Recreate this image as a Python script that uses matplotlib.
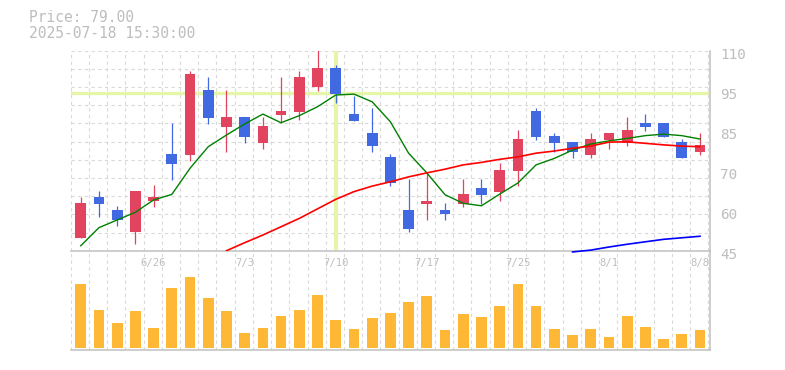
import numpy as np
import matplotlib.pyplot as plt
from matplotlib.transforms import ScaledTranslation

# OHLC (35 trading days, 6/20 .. 8/8)
opens = [49.2, 62.45, 58.2, 51.2, 61.25, 76.4, 76.2, 97.2, 85.3, 88.45, 80.1, 89.2, 90.2, 98.3, 104.4,
         89.43, 83.25, 75.45, 58.2, 60.27, 58.2, 60.27, 65.4, 64.2, 71.0, 90.4, 82.3, 80.3, 76.2, 81.07,
         80.1, 86.5, 86.5, 80.3, 77.2]
closes = [60.5, 60.3, 55.1, 64.4, 62.45, 73.3, 102.4, 88.2, 88.45, 82.05, 85.5, 90.4, 101.45, 104.4, 96.0,
          87.25, 79.1, 67.1, 52.15, 61.25, 57.0, 63.4, 63.2, 71.2, 81.3, 82.05, 80.1, 77.2, 81.3, 83.25,
          84.2, 85.3, 82.05, 75.2, 79.35]
highs = [62.5, 64.4, 59.5, 64.4, 66.35, 86.5, 103.4, 101.45, 97.2, 88.45, 88.45, 101.45, 103.4, 110.2, 105.35,
         95.3, 91.4, 76.4, 68.4, 70.35, 60.5, 68.4, 68.4, 73.5, 84.2, 91.4, 83.25, 80.3, 83.25, 83.25,
         88.45, 89.43, 86.5, 81.3, 83.25]
lows = [49.2, 56.05, 53.1, 47.3, 59.3, 68.1, 74.25, 86.3, 77.2, 80.1, 78.15, 86.4, 87.4, 97.0, 93.1,
        87.25, 77.2, 66.1, 51.2, 55.1, 55.1, 59.3, 60.27, 61.25, 66.1, 81.07, 77.2, 75.2, 75.2, 78.15,
        79.1, 84.0, 82.05, 75.2, 76.2]
volume = [192, 114, 75, 111, 60, 180, 213, 150, 111, 45, 60, 96, 114, 159, 84, 57, 90, 105, 138,
          156, 54, 102, 93, 126, 192, 126, 57, 39, 57, 33, 96, 63, 27, 42, 54]

# moving averages
ma_short = [46.6, 52.5, 55.0, 57.5, 61.5, 63.3, 71.8, 78.8, 82.6, 86.2, 89.4, 86.6, 88.9, 91.8, 95.6,
            95.9, 93.4, 86.9, 76.7, 70.3, 63.2, 60.4, 59.6, 63.4, 67.0, 72.9, 75.0, 77.7, 79.7, 80.7,
            81.5, 82.4, 82.9, 82.4, 81.3]
ma_mid_start = 8
ma_mid = [45.0, 47.6, 50.1, 52.8, 55.5, 58.6, 61.7, 64.2, 66.0, 67.4, 69.0, 70.3, 71.5, 72.9, 73.7,
          74.7, 75.5, 76.7, 77.4, 78.3, 79.0, 80.3, 80.4, 79.9, 79.4, 79.0, 78.8]
ma_long_start = 27
ma_long = [44.6, 45.2, 46.2, 47.1, 47.9, 48.7, 49.2, 49.7]

date_ticks = [4, 9, 14, 19, 24, 29, 34]
date_labels = ["6/26", "7/3", "7/10", "7/17", "7/25", "8/1", "8/8"]
price_labels = ["45", "60", "70", "85", "95", "110"]
cursor_idx = 14
cursor_price = 96.15

UP = "#e2435f"
DOWN = "#4169e1"
VOL = "#ffb836"
CURSOR = "#e6f6a8"
GRID = "#d9d9d9"
AXIS = "#c0c0c0"
TXT = "#bdbdbd"
MONO = "DejaVu Sans Mono"

fig = plt.figure(figsize=(7.85, 3.7), dpi=100)
axv = fig.add_axes([0.0901, 0.0541, 0.8144, 0.2683])
ax = fig.add_axes([0.0901, 0.3224, 0.8144, 0.5405], sharex=axv)
axv.patch.set_visible(False)

x = np.arange(len(opens))
o = np.array(opens)
c = np.array(closes)
up = c >= o
colors = np.where(up, UP, DOWN)

ymin, ymax = 45, 110
ax.set_xlim(-0.55, 34.55)
ax.set_ylim(ymin, ymax)

# grid
for gx in np.arange(-0.55, 34.5, 1.0):
    ax.axvline(gx, color=GRID, lw=0.8, ls=(0, (3, 3)), zorder=0)
    axv.axvline(gx, color=GRID, lw=0.8, ls=(0, (3, 3)), zorder=0)
for gy in np.linspace(ymin, ymax, 12)[1:]:
    ax.axhline(gy, color=GRID, lw=0.8, ls=(0, (3, 3)), zorder=0)

# cursor
ax.axhline(cursor_price, color=CURSOR, lw=2.4, zorder=1)
ax.axvline(cursor_idx, ymin=0.012, ymax=0.994, color=CURSOR, lw=3, zorder=1)

# candles
ax.vlines(x, lows, highs, colors=colors, lw=0.9, zorder=3)
ax.bar(x, np.abs(c - o), bottom=np.minimum(o, c), width=0.59, color=colors, zorder=4)

# moving averages
ax.plot(x, ma_short, color="#008000", lw=1.0, zorder=5)
ax.plot(x[ma_mid_start:], ma_mid, color="#ff0000", lw=1.2, zorder=5)
ax.plot(x[ma_long_start:], ma_long, color="#0000ff", lw=1.2, zorder=5, clip_on=False)

# volume
axv.bar(x, volume, width=0.59, color=VOL, zorder=2)
axv.set_ylim(-6, 292)

for a in (ax, axv):
    for s in ("top", "left"):
        a.spines[s].set_visible(False)
    for s in ("bottom", "right"):
        a.spines[s].set_color(AXIS)
        a.spines[s].set_linewidth(1.1)

ax.yaxis.tick_right()
ax.set_yticks(np.linspace(ymin, ymax, 6))
ax.set_yticklabels(price_labels)
ax.tick_params(axis="y", length=0, pad=7.5, labelsize=10.3, labelcolor=TXT)
for lbl in ax.get_yticklabels():
    lbl.set_fontfamily(MONO)
    lbl.set_transform(lbl.get_transform() + ScaledTranslation(0, -0.026, fig.dpi_scale_trans))

ax.set_xticks(date_ticks)
ax.set_xticklabels(date_labels)
ax.tick_params(axis="x", length=0, pad=5.5, labelsize=7.6, labelcolor=TXT, labelbottom=True)
for lbl in ax.get_xticklabels():
    lbl.set_fontfamily(MONO)

axv.tick_params(axis="both", length=0, labelbottom=False, labelleft=False, labelright=False)
axv.set_yticks([])

fig.text(29 / 785, 1 - 18 / 370, "Price: 79.00", family=MONO, fontsize=10.5, color=TXT, va="center")
fig.text(29 / 785, 1 - 33 / 370, "2025-07-18 15:30:00", family=MONO, fontsize=10.5, color=TXT, va="center")

fig.savefig("out.png", dpi=100)
